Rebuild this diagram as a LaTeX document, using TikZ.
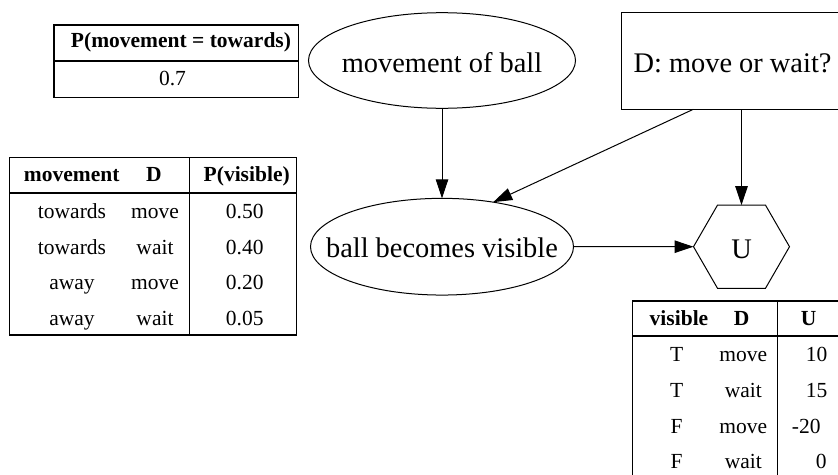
\documentclass[tikz,border=0pt]{standalone}
\usepackage{fontspec}
\setmainfont{Liberation Serif}
\usetikzlibrary{shapes.geometric,arrows.meta}
\begin{document}
\begin{tikzpicture}[x=1pt,y=-1pt,
  every node/.style={inner sep=0pt, outer sep=0pt},
  graphtext/.style={font=\fontsize{28.4}{34}\selectfont},
  chance/.style={draw, ellipse, line width=1pt, graphtext, text depth=0pt},
  decision/.style={draw, rectangle, line width=1pt},
  utility/.style={draw, regular polygon, regular polygon sides=6, minimum size=96pt,
    line width=1pt, graphtext, text depth=0pt},
  link/.style={line width=1pt, -{Triangle[length=19pt,width=12.5pt]}},
  tabtxt/.style={font=\fontsize{21.5}{25}\selectfont, anchor=base},
  tabhead/.style={font=\fontsize{21.5}{25}\selectfont\bfseries, anchor=base},
  tabframe/.style={line width=1.3pt},
  headrule/.style={line width=2.3pt},
]
\useasboundingbox (0,0) rectangle (838,474);
\clip (0,0) rectangle (838,474);

% ---- influence diagram ----
\node[chance, minimum width=267pt, minimum height=95.6pt, text height=24.4pt]
  (mov) at (442,60.5) {\makebox[0pt]{movement of ball}};
\node[chance, minimum width=263pt, minimum height=96.7pt, text height=21.2pt]
  (vis) at (442,246.7) {\makebox[0pt]{ball becomes visible}};
\node[decision, minimum width=241pt, minimum height=96.6pt] (D) at (741.5,61) {};
\node[graphtext, anchor=base] (Dtext) at (732.5,72.7) {D: move or wait?};
\node[utility, text height=23.2pt] (U) at (741.5,246.7) {\makebox[0pt]{U}};

\draw[link] (mov) -- (vis);
\draw[link] ([xshift=-48.2pt]D.south) -- (vis.41.7);
\draw[link] (D) -- (U);
\draw[link] (vis) -- (U);

% ---- prior of movement ----
\draw[tabframe] (54,25) rectangle (298.3,97.3);
\draw[headrule] (54,60.7) -- (298.3,60.7);
\node[tabhead] (pm-h) at (181,47.3) {P(movement = towards)};
\node[tabtxt] (pm-v) at (172.5,85.7) {0.7};

% ---- conditional table of visibility ----
\draw[tabframe] (9.3,157.3) rectangle (296.7,335);
\draw[tabframe] (189.3,157.3) -- (189.3,335);
\draw[headrule] (9.3,192.7) -- (296.7,192.7);
\node[tabhead] (pv-h1) at (71.7,181.7) {movement};
\node[tabhead] (pv-h2) at (154,181.7) {D};
\node[tabhead] (pv-h3) at (246.7,181.7) {P(visible)};
\foreach \a/\b/\c [count=\i] in {towards/move/0.50, towards/wait/0.40,
                                 away/move/0.20, away/wait/0.05} {
  \pgfmathsetmacro\yy{218.3+35.8*(\i-1)}
  \node[tabtxt] (pv-\i-a) at (72,\yy) {\a};
  \node[tabtxt] (pv-\i-b) at (155,\yy) {\b};
  \node[tabtxt] (pv-\i-c) at (244.7,\yy) {\c};
}

% ---- utility table ----
\draw[tabframe] (632.7,301) rectangle (845,480);
\draw[tabframe] (777.7,301) -- (777.7,480);
\draw[headrule] (632.7,336) -- (845,336);
\node[tabhead] (ut-h1) at (679,325) {visible};
\node[tabhead] (ut-h2) at (741.7,325) {D};
\node[tabhead] (ut-h3) at (808.7,325) {U};
\foreach \a/\b/\c/\r [count=\i] in {T/move/10/827.3, T/wait/15/827.3,
                                    F/move/-20/820.5, F/wait/0/826.5} {
  \pgfmathsetmacro\yy{361.7+35.7*(\i-1)}
  \node[tabtxt] (ut-\i-a) at (676.7,\yy) {\a};
  \node[tabtxt] (ut-\i-b) at (743.3,\yy) {\b};
  \node[tabtxt, anchor=base east] (ut-\i-c) at (\r,\yy) {\c};
}
\end{tikzpicture}
\end{document}
